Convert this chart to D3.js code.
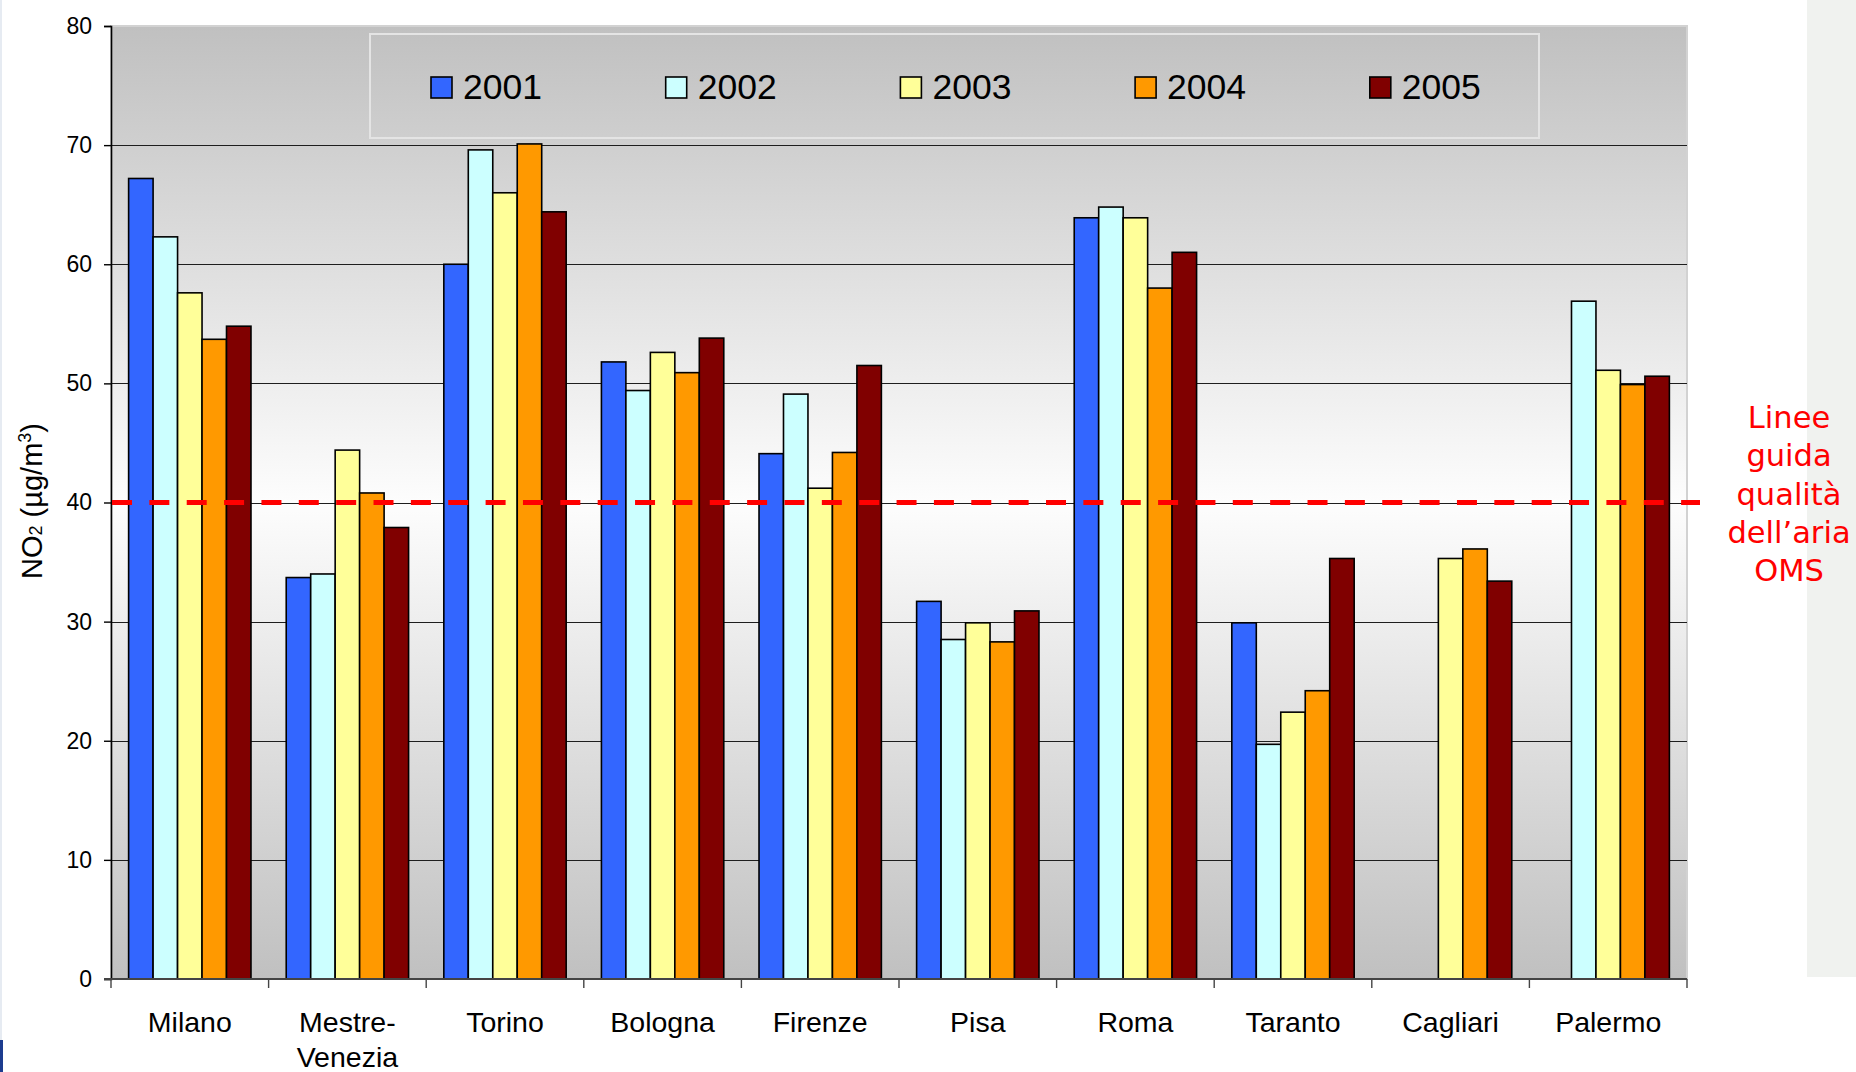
<!DOCTYPE html>
<html>
<head>
<meta charset="utf-8">
<script src="https://cdn.jsdelivr.net/npm/d3@7"></script>
<style>
  body { margin: 0; background: #ffffff; }
  svg { display: block; }
</style>
</head>
<body>
<script>
// Annual mean NO2 concentrations (µg/m³) in Italian cities, 2001–2005
const cities = ["Milano", "Mestre-Venezia", "Torino", "Bologna", "Firenze",
                "Pisa", "Roma", "Taranto", "Cagliari", "Palermo"];
const years = ["2001", "2002", "2003", "2004", "2005"];
const v2001 = [67.2, 33.7, 60.0, 51.8, 44.1, 31.7, 63.9, 29.9, null, null];
const v2002 = [62.3, 34.0, 69.6, 49.4, 49.1, 28.5, 64.8, 19.7, null, 56.9];
const v2003 = [57.6, 44.4, 66.0, 52.6, 41.2, 29.9, 63.9, 22.4, 35.3, 51.1];
const v2004 = [53.7, 40.8, 70.1, 50.9, 44.2, 28.3, 58.0, 24.2, 36.1, 49.9];
const v2005 = [54.8, 37.9, 64.4, 53.8, 51.5, 30.9, 61.0, 35.3, 33.4, 50.6];
const yTicks = [0, 10, 20, 30, 40, 50, 60, 70, 80];
const whoLimit = 40;
const whoNote = ["Linee", "guida", "qualità", "dell’aria", "OMS"];

const seriesValues = [v2001, v2002, v2003, v2004, v2005];
const colors = ["#3366ff", "#ccffff", "#ffff99", "#ff9900", "#800000"];

const W = 1856, H = 1072;
const plot = { left: 111, right: 1687, top: 26, bottom: 979 };

const svg = d3.select("body").append("svg")
  .attr("width", W).attr("height", H)
  .style("font-family", "'Liberation Sans', Arial, sans-serif");

// slide decoration at the page edges
svg.append("rect").attr("x", 1807).attr("y", 0).attr("width", 49).attr("height", 977)
  .attr("fill", "#f0f2ef");
svg.append("rect").attr("x", 0).attr("y", 0).attr("width", 2).attr("height", 1040)
  .attr("fill", "#e6ebf2");
svg.append("rect").attr("x", 0).attr("y", 1040).attr("width", 3).attr("height", 32)
  .attr("fill", "#1d3c8f");

// scales
const x = d3.scaleBand().domain(cities).range([plot.left, plot.right]).padding(0);
const xs = d3.scaleBand().domain(years)
  .range([0, x.bandwidth()]).paddingInner(0).paddingOuter(0.72);
const y = d3.scaleLinear().domain([0, 80]).range([plot.bottom, plot.top]);

// plot background: grey - white - grey vertical gradient
const defs = svg.append("defs");
const grad = defs.append("linearGradient").attr("id", "plotBg")
  .attr("x1", 0).attr("y1", 0).attr("x2", 0).attr("y2", 1);
grad.append("stop").attr("offset", "0%").attr("stop-color", "#c0c0c0");
grad.append("stop").attr("offset", "50%").attr("stop-color", "#fdfdfd");
grad.append("stop").attr("offset", "100%").attr("stop-color", "#c0c0c0");

svg.append("rect")
  .attr("x", plot.left).attr("y", plot.top)
  .attr("width", plot.right - plot.left).attr("height", plot.bottom - plot.top)
  .attr("fill", "url(#plotBg)")
  .attr("stroke", "#d2d2d2").attr("stroke-width", 2);

// horizontal gridlines
svg.append("g").selectAll("line")
  .data(yTicks.filter(t => t > 0 && t < 80))
  .join("line")
  .attr("x1", plot.left).attr("x2", plot.right)
  .attr("y1", d => Math.round(y(d)) + 0.5).attr("y2", d => Math.round(y(d)) + 0.5)
  .attr("stroke", "#1e1e1e").attr("stroke-width", 1.2);

// legend frame and entries
const legend = svg.append("g");
legend.append("rect")
  .attr("x", 370).attr("y", 34).attr("width", 1169).attr("height", 104)
  .attr("fill", "none").attr("stroke", "#e4e4e4").attr("stroke-width", 2);
const legendItems = legend.selectAll("g.item").data(years).join("g")
  .attr("class", "item")
  .attr("transform", (d, i) => `translate(${431 + i * 234.7},0)`);
legendItems.append("rect")
  .attr("x", 0).attr("y", 77).attr("width", 21).attr("height", 21)
  .attr("fill", (d, i) => colors[i]).attr("stroke", "#000").attr("stroke-width", 1.6);
legendItems.append("text")
  .attr("x", 32).attr("y", 98.5)
  .attr("font-size", 35.5).attr("fill", "#000")
  .text(d => d);

// bars
const groups = svg.append("g").selectAll("g")
  .data(cities).join("g")
  .attr("transform", d => `translate(${x(d)},0)`);
groups.selectAll("rect")
  .data((c, ci) => years.map((yr, si) => ({ yr, si, v: seriesValues[si][ci] }))
    .filter(d => d.v != null))
  .join("rect")
  .attr("x", d => xs(d.yr))
  .attr("width", xs.bandwidth())
  .attr("y", d => y(d.v))
  .attr("height", d => y(0) - y(d.v))
  .attr("fill", d => colors[d.si])
  .attr("stroke", "#000").attr("stroke-width", 1.6);

// y axis
const yAxis = svg.append("g")
  .attr("transform", `translate(${plot.left},0)`)
  .call(d3.axisLeft(y).tickValues(yTicks).tickSize(7).tickPadding(12).tickFormat(d3.format("d")));
yAxis.select(".domain").attr("stroke", "#000").attr("stroke-width", 1.6);
yAxis.selectAll(".tick line").attr("stroke", "#000").attr("stroke-width", 1.4);
yAxis.selectAll(".tick text")
  .attr("font-size", 23).attr("fill", "#000")
  .attr("font-family", "'Liberation Sans', Arial, sans-serif");

// x axis line with category separators
const xAxis = svg.append("g");
xAxis.append("line")
  .attr("x1", plot.left - 7).attr("x2", plot.right)
  .attr("y1", plot.bottom).attr("y2", plot.bottom)
  .attr("stroke", "#444").attr("stroke-width", 2);
const sepPositions = cities.map(c => x(c)).concat([x.range()[1]]);
xAxis.selectAll("line.sep").data(sepPositions).join("line")
  .attr("class", "sep")
  .attr("x1", d => d).attr("x2", d => d)
  .attr("y1", plot.bottom).attr("y2", plot.bottom + 9)
  .attr("stroke", "#444").attr("stroke-width", 1.4);
const catLabels = xAxis.selectAll("text.cat").data(cities).join("text")
  .attr("class", "cat")
  .attr("text-anchor", "middle")
  .attr("font-size", 28.5).attr("fill", "#000");
catLabels.each(function (d) {
  const parts = d.includes("-") ? [d.split("-")[0] + "-", d.split("-")[1]] : [d];
  const t = d3.select(this);
  parts.forEach((p, i) => {
    t.append("tspan")
      .attr("x", x(d) + x.bandwidth() / 2)
      .attr("y", 1032 + i * 35)
      .text(p);
  });
});

// y axis title: NO2 (µg/m3)
const yTitle = svg.append("text")
  .attr("transform", "translate(42,501) rotate(-90)")
  .attr("text-anchor", "middle")
  .attr("font-size", 29).attr("fill", "#000");
yTitle.append("tspan").text("NO");
yTitle.append("tspan").attr("font-size", 18).text("2");
yTitle.append("tspan").text(" (µg/m");
yTitle.append("tspan").attr("font-size", 18).attr("dy", -11).text("3");
yTitle.append("tspan").attr("dy", 11).text(")");

// WHO guideline line
svg.append("line")
  .attr("x1", plot.left + 1).attr("x2", 1700)
  .attr("y1", y(whoLimit)).attr("y2", y(whoLimit))
  .attr("stroke", "#ff0000").attr("stroke-width", 5)
  .attr("stroke-dasharray", "20 17.36");

svg.append("g").selectAll("text").data(whoNote).join("text")
  .attr("x", 1789)
  .attr("y", (d, i) => 428 + i * 38.3)
  .attr("text-anchor", "middle")
  .attr("font-family", "'DejaVu Sans', Verdana, sans-serif")
  .attr("font-size", 30.5)
  .attr("fill", "#ff0000")
  .text(d => d);
</script>
</body>
</html>
